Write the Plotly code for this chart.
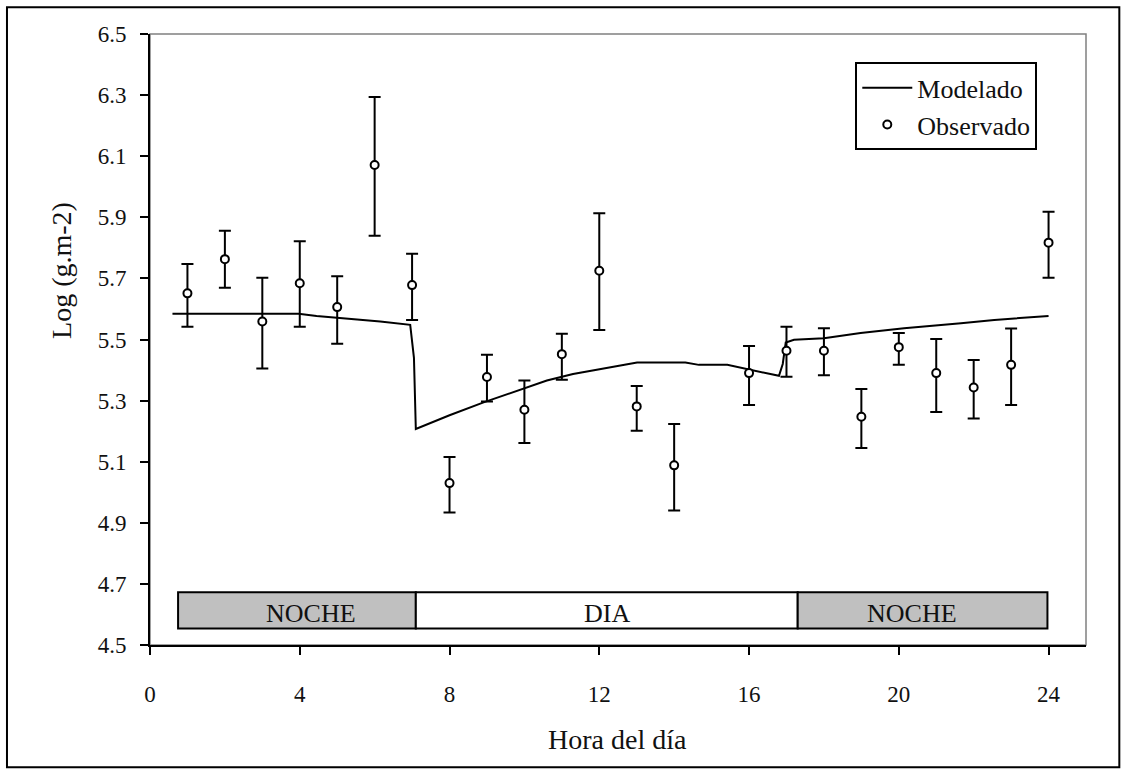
import plotly.graph_objects as go

# Observed hourly values with asymmetric error bars
hours_obs = [1, 2, 3, 4, 5, 6, 7, 8, 9, 10, 11, 12, 13, 14, 16, 17, 18, 19, 20, 21, 22, 23, 24]
obs_vals = [5.651, 5.763, 5.559, 5.684, 5.606, 6.071, 5.678, 5.030, 5.377, 5.270, 5.452, 5.725,
            5.281, 5.088, 5.390, 5.463, 5.463, 5.247, 5.475, 5.390, 5.343, 5.417, 5.817]
obs_upper = [5.747, 5.856, 5.702, 5.822, 5.707, 6.294, 5.781, 5.115, 5.450, 5.366, 5.519, 5.913,
             5.348, 5.223, 5.479, 5.542, 5.537, 5.338, 5.521, 5.502, 5.433, 5.536, 5.918]
obs_lower = [5.542, 5.669, 5.405, 5.542, 5.486, 5.840, 5.564, 4.934, 5.297, 5.161, 5.368, 5.531,
             5.201, 4.940, 5.286, 5.378, 5.383, 5.145, 5.417, 5.263, 5.241, 5.286, 5.702]

# Modelled curve
hours_mod = [0.6, 3.0, 3.97, 4.45, 4.99, 5.53, 6.15, 6.95, 7.05, 7.1, 8.0, 8.91, 9.8, 10.6,
             11.3, 12.03, 13.01, 14.3, 14.66, 15.42, 16.04, 16.8, 16.9, 16.98, 17.2, 18.0,
             18.98, 20.14, 21.66, 22.55, 24.0]
mod_vals = [5.584, 5.584, 5.584, 5.577, 5.572, 5.566, 5.559, 5.548, 5.44, 5.207, 5.252, 5.294,
            5.333, 5.366, 5.387, 5.403, 5.425, 5.425, 5.417, 5.417, 5.401, 5.381, 5.42, 5.490,
            5.499, 5.504, 5.521, 5.537, 5.553, 5.564, 5.577]

# Day / night periods drawn along the bottom of the plot
period_labels = ["NOCHE", "DIA", "NOCHE"]
period_start = [0.75, 7.1, 17.3]
period_end = [7.1, 17.3, 23.97]
period_fill = ["#C0C0C0", "#FFFFFF", "#C0C0C0"]
period_text_x = [4.3, 12.2, 20.35]
band_bottom, band_top = 4.554, 4.673

x_ticks = [0, 4, 8, 12, 16, 20, 24]
y_ticks = [4.5, 4.7, 4.9, 5.1, 5.3, 5.5, 5.7, 5.9, 6.1, 6.3, 6.5]

FONT = "Liberation Serif"

fig = go.Figure()

fig.add_trace(go.Scatter(
    x=hours_mod, y=mod_vals, mode="lines", name="Modelado",
    line=dict(color="black", width=2),
))

fig.add_trace(go.Scatter(
    x=hours_obs, y=obs_vals, mode="markers", name="Observado",
    marker=dict(symbol="circle", size=8, color="white", line=dict(color="black", width=2)),
    error_y=dict(
        type="data", symmetric=False,
        array=[u - v for u, v in zip(obs_upper, obs_vals)],
        arrayminus=[v - l for v, l in zip(obs_vals, obs_lower)],
        color="black", thickness=2, width=6,
    ),
))

shapes = []
annotations = []
for lab, x0, x1, fc, tx in zip(period_labels, period_start, period_end, period_fill, period_text_x):
    shapes.append(dict(type="rect", xref="x", yref="y", x0=x0, x1=x1, y0=band_bottom, y1=band_top,
                       fillcolor=fc, line=dict(color="black", width=2), layer="below"))
    annotations.append(dict(x=tx, y=(band_bottom + band_top) / 2 - 0.012, xref="x", yref="y",
                            text=lab, showarrow=False, font=dict(family=FONT, size=26, color="#111"),
                            xanchor="center", yanchor="middle"))

# thin grey frame on the top/right of the plot area
shapes.append(dict(type="rect", xref="paper", yref="paper", x0=0, x1=1, y0=0, y1=1,
                   line=dict(color="#808080", width=1.5), layer="below"))
# outer border of the chart area
shapes.append(dict(type="rect", xref="paper", yref="paper", x0=-0.1528, x1=1.0356, y0=-0.2002, y1=1.0437,
                   line=dict(color="black", width=2), layer="below"))

# axis titles
annotations.append(dict(x=(617 - 150) / 935.7, y=(645.5 - 740) / 611.8, xref="paper", yref="paper",
                        text="Hora del día", showarrow=False,
                        font=dict(family=FONT, size=28, color="#111"),
                        xanchor="center", yanchor="middle"))
annotations.append(dict(x=(62 - 150) / 935.7, y=(645.5 - 270) / 611.8, xref="paper", yref="paper",
                        text="Log (g.m-2)", showarrow=False, textangle=-90,
                        font=dict(family=FONT, size=28, color="#111"),
                        xanchor="center", yanchor="middle"))

fig.update_layout(
    width=1126, height=776,
    margin=dict(l=150, r=40, t=34, b=130.5),
    paper_bgcolor="white", plot_bgcolor="white",
    font=dict(family=FONT, color="#111"),
    shapes=shapes, annotations=annotations,
    showlegend=True,
    legend=dict(
        x=(1037 - 150) / 935.7, y=(645.5 - 62) / 611.8, xanchor="right", yanchor="top",
        bordercolor="black", borderwidth=2, bgcolor="white",
        font=dict(family=FONT, size=26, color="#111"),
        tracegroupgap=0, itemwidth=50,
    ),
)

fig.update_xaxes(
    range=[0, 25], tickvals=x_ticks, ticktext=[str(v) for v in x_ticks],
    showgrid=False, zeroline=False,
    showline=True, linecolor="black", linewidth=2,
    ticks="outside", ticklen=8, tickwidth=2, tickcolor="black",
    tickfont=dict(family=FONT, size=23, color="#111"), ticklabelstandoff=19,
)
fig.update_yaxes(
    range=[4.5, 6.5], tickvals=y_ticks, ticktext=[f"{v:.1f}" for v in y_ticks],
    showgrid=False, zeroline=False,
    showline=True, linecolor="black", linewidth=2,
    ticks="outside", ticklen=8, tickwidth=2, tickcolor="black",
    tickfont=dict(family=FONT, size=23, color="#111"), ticklabelstandoff=9,
)

fig.write_html("out.html")
